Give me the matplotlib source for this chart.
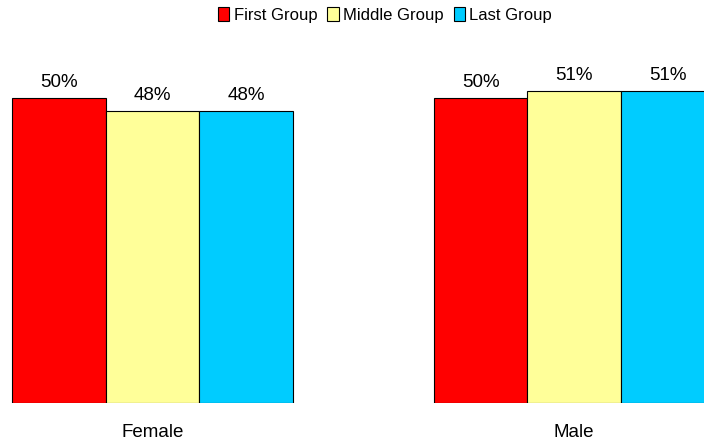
import numpy as np
import matplotlib
matplotlib.use("Agg")
import matplotlib.pyplot as plt

plt.rcParams['font.family'] = ['Liberation Sans', 'DejaVu Sans']

categories = ["Female", "Male"]
series = ["First Group", "Middle Group", "Last Group"]
first_group = [50.0, 50.0]
middle_group = [47.8, 51.1]
last_group = [47.8, 51.1]
labels_first = ["50%", "50%"]
labels_middle = ["48%", "51%"]
labels_last = ["48%", "51%"]
colors = ["#ff0000", "#ffff99", "#00ccff"]

fig = plt.figure(figsize=(7.04, 4.44), dpi=100)
ax = fig.add_axes([0, 41 / 444, 1, 363 / 444])

x = np.arange(len(categories))
w = 0.222
values = [first_group, middle_group, last_group]
labels = [labels_first, labels_middle, labels_last]
handles = []
for i, (vals, labs) in enumerate(zip(values, labels)):
    bars = ax.bar(x + (i - 1) * w, vals, w, color=colors[i],
                  edgecolor="black", linewidth=0.8, label=series[i])
    handles.append(bars)
    for b, lab in zip(bars, labs):
        ax.annotate(lab, (b.get_x() + b.get_width() / 2, b.get_height()),
                    xytext=(0, 8), textcoords="offset points",
                    ha="center", va="baseline", fontsize=13.5)

ax.set_xlim(-0.362, 1.308)
ax.set_ylim(0, 59.45)
ax.set_xticks(x)
ax.set_xticklabels(categories, fontsize=13.5)
ax.tick_params(axis="x", length=0, pad=15)
ax.set_yticks([])
for s in ax.spines.values():
    s.set_visible(False)

fig.legend(handles=handles, loc="center", bbox_to_anchor=(385 / 704, 1 - 15 / 444),
           ncol=3, frameon=False, fontsize=12, handlelength=0.7,
           handleheight=0.9, handletextpad=0.25, columnspacing=0.6,
           borderpad=0)

fig.savefig("out.png", dpi=100)
